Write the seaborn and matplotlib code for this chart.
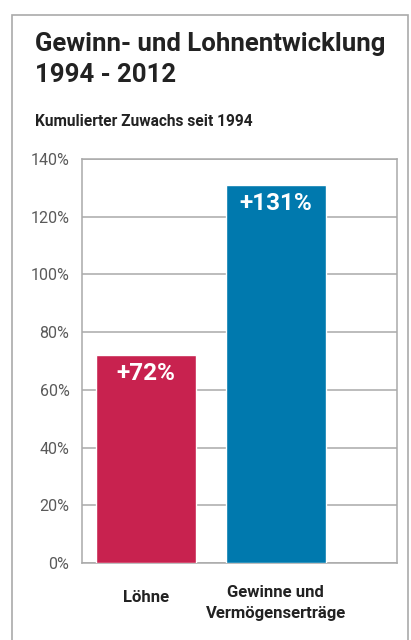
import matplotlib
matplotlib.use("Agg")
import matplotlib.pyplot as plt
import matplotlib.transforms as mtransforms
import seaborn as sns
from matplotlib.patches import Rectangle

sns.set_style("white")
plt.rcParams["font.family"] = ["Roboto", "DejaVu Sans"]

categories = ["Löhne", "Gewinne und\nVermögenserträge"]
values = [72, 131]
labels = ["+72%", "+131%"]
colors = ["#C8224F", "#0079AE"]
yticks = [0, 20, 40, 60, 80, 100, 120, 140]

fig = plt.figure(figsize=(4.11, 6.40), dpi=100)
ax = fig.add_axes([0.1995, 0.1203, 0.766, 0.6313])

sns.barplot(x=categories, y=values, hue=categories, palette=colors,
            width=0.77, saturation=1, legend=False, ax=ax, zorder=3)

ax.set_xlim(-0.49, 1.93)
ax.set_ylim(0, 140)
ax.set_yticks(yticks)
ax.set_yticklabels([f"{t}%" for t in yticks], fontsize=11.5, color="#5A5A5A")
ax.set_xticks(range(len(categories)))
ax.set_xticklabels(categories, fontsize=12, fontweight="bold", color="#222222",
                   linespacing=1.45)
ax.tick_params(axis="both", length=0)
ax.tick_params(axis="y", pad=9)
ax.tick_params(axis="x", pad=16)
ax.grid(axis="y", color="#AAAAAA", linewidth=1.1, zorder=0)
for s in ax.spines.values():
    s.set_color("#AAAAAA")
    s.set_linewidth(1.1)
ax.set_xlabel("")
ax.set_ylabel("")

# single-line label sits a little lower, between the two lines of the other
lbl = ax.get_xticklabels()[0]
lbl.set_transform(lbl.get_transform() +
                  mtransforms.ScaledTranslation(0, -5 / 100, fig.dpi_scale_trans))

for i, (v, lab) in enumerate(zip(values, labels)):
    ax.annotate(lab, (i, v), xytext=(0, -5), textcoords="offset points",
                ha="center", va="top", color="white", fontsize=17.5, fontweight="bold")

fig.text(35 / 411, 1 - 51 / 640, "Gewinn- und Lohnentwicklung",
         fontsize=18.5, fontweight="bold", color="#222222", va="baseline")
fig.text(35 / 411, 1 - 82 / 640, "1994 - 2012",
         fontsize=18.5, fontweight="bold", color="#222222", va="baseline")
fig.text(35 / 411, 1 - 126 / 640, "Kumulierter Zuwachs seit 1994",
         fontsize=11.2, fontweight="bold", color="#222222", va="baseline")

fig.patches.append(Rectangle((12 / 411, -0.1), 396 / 411, 1 - 15 / 640 + 0.1,
                             transform=fig.transFigure, fill=False,
                             edgecolor="#AAAAAA", linewidth=1.2))

fig.savefig("out.png", dpi=100)
